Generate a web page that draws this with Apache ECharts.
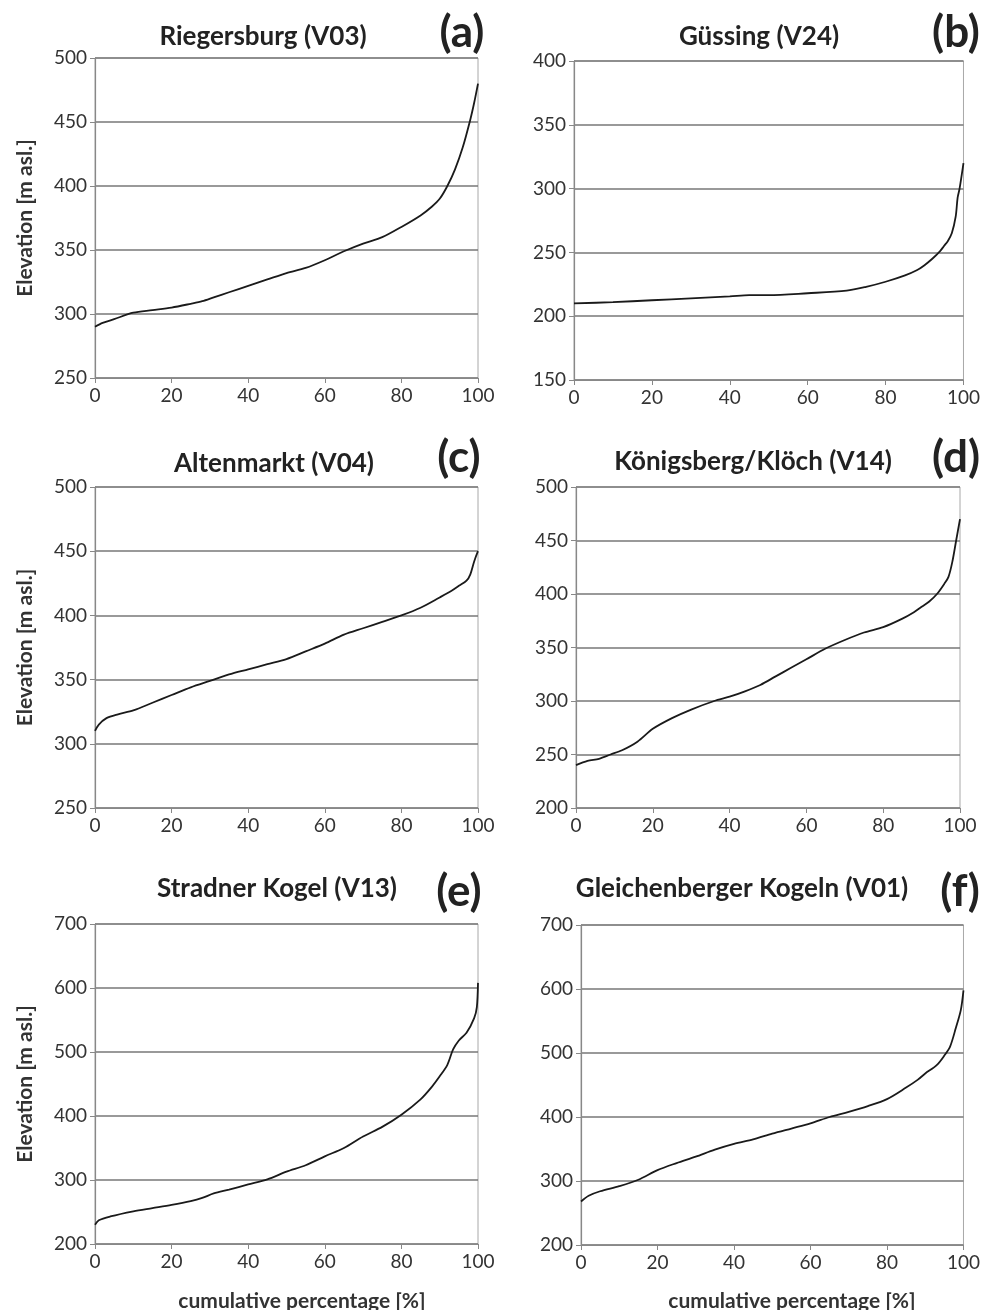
<!DOCTYPE html>
<html>
<head>
<meta charset="utf-8">
<script src="https://cdn.jsdelivr.net/npm/echarts@6/dist/echarts.min.js"></script>
<style>
  html, body { margin: 0; padding: 0; background: #fff; }
  #main { width: 983px; height: 1310px; }
</style>
</head>
<body>
<div id="main"></div>
<script>
// cumulative percentage (x) and elevation (y)
const xA = [0, 2, 5, 10, 15, 20, 25, 28, 31, 35, 40, 45, 50, 55, 60, 65, 70, 75, 80, 85, 88, 90, 92, 94, 96, 98, 99, 100]
const yA = [290, 293, 296, 301, 303, 305, 308, 310, 313, 317, 322, 327, 332, 336, 342, 349, 355, 360, 368, 377, 384, 390, 400, 413, 430, 452, 465, 480]

const xB = [0, 10, 20, 30, 40, 45, 50, 60, 70, 75, 80, 85, 88, 90, 92, 94, 95, 96, 97, 98, 98.5, 99, 100]
const yB = [210, 211, 212.5, 214, 215.5, 216.5, 216.5, 218, 220, 223, 227, 232, 236, 240, 245, 251, 255, 259, 265, 278, 293, 300, 320]

const xC = [0, 1, 3, 6, 10, 15, 20, 25, 30, 35, 40, 45, 50, 55, 60, 65, 70, 75, 80, 85, 90, 93, 95, 97, 98, 99, 100]
const yC = [310, 315, 320, 323, 326, 332, 338, 344, 349, 354, 358, 362, 366, 372, 378, 385, 390, 395, 400, 406, 414, 419, 423, 427, 432, 442, 450]

const xD = [0, 3, 6, 9, 12, 16, 20, 25, 30, 36, 40, 44, 48, 52, 56, 60, 65, 70, 75, 80, 85, 88, 90, 92, 94, 96, 97, 98, 99, 100]
const yD = [240, 244, 246, 250, 254, 262, 274, 284, 292, 300, 304, 309, 315, 323, 331, 339, 349, 357, 364, 369, 377, 383, 388, 393, 400, 410, 416, 430, 450, 470]

const xE = [0, 1, 4, 10, 15, 20, 25, 28, 31, 35, 40, 45, 50, 55, 60, 65, 70, 75, 80, 85, 88, 90, 92, 93.5, 95, 97, 99, 99.7, 100]
const yE = [230, 237, 243, 251, 256, 261, 267, 272, 279, 285, 293, 301, 313, 323, 337, 350, 368, 383, 402, 426, 446, 462, 480, 504, 518, 530, 553, 570, 608]

const xF = [0, 2, 5, 10, 15, 20, 25, 30, 35, 40, 45, 50, 55, 60, 65, 70, 75, 80, 85, 88, 90, 93, 95, 96.5, 98, 99.3, 100]
const yF = [268, 277, 284, 292, 302, 317, 328, 338, 349, 358, 365, 374, 382, 390, 400, 408, 417, 428, 446, 458, 468, 481, 496, 510, 539, 567, 598]

const panelTitles = ['Riegersburg (V03)', 'Güssing (V24)', 'Altenmarkt (V04)', 'Königsberg/Klöch (V14)', 'Stradner Kogel (V13)', 'Gleichenberger Kogeln (V01)']
const panelLetters = ['(a)', '(b)', '(c)', '(d)', '(e)', '(f)']
const yMin = [250, 150, 250, 200, 200, 200]
const yMax = [500, 400, 500, 500, 700, 700]
const yStep = [50, 50, 50, 50, 100, 100]
const yName = 'Elevation [m asl.]'
const xName = 'cumulative percentage [%]'

const xs = [xA, xB, xC, xD, xE, xF]
const ys = [yA, yB, yC, yD, yE, yF]

const FONT = 'Lato, "Open Sans", sans-serif'

// plot boxes in px: [left, top, width, height]
const boxes = [
  [95, 58, 383, 320],
  [574, 61, 391, 319],
  [95, 487, 383, 321],
  [576, 487, 384, 321],
  [95, 924, 383, 320],
  [581, 925, 383, 320]
]
// title centre x / top, letter centre x / top
const titlePos = [
  [258, 19, 457, 6],
  [754, 19, 951, 6],
  [269, 446, 454, 431],
  [748, 444, 951, 431],
  [272, 871, 454, 865],
  [737, 871, 955, 865]
]

const chart = echarts.init(document.getElementById('main'))

const grid = []
const xAxis = []
const yAxis = []
const series = []
const title = []

boxes.forEach((b, i) => {
  grid.push({
    left: b[0], top: b[1], width: b[2], height: b[3],
    show: true, borderColor: '#a8a8a8', borderWidth: 1, backgroundColor: '#fff'
  })
  xAxis.push({
    type: 'value', gridIndex: i, min: 0, max: 100, interval: 20,
    axisLine: { show: true, onZero: false, lineStyle: { color: '#888', width: 1.2 } },
    axisTick: { show: true, length: 5, lineStyle: { color: '#888' } },
    axisLabel: { color: '#333', fontSize: 19, fontFamily: FONT, margin: 8 },
    splitLine: { show: false }
  })
  yAxis.push({
    type: 'value', gridIndex: i, min: yMin[i], max: yMax[i], interval: yStep[i],
    name: i % 2 === 0 ? yName : '',
    nameLocation: 'middle', nameGap: 59,
    nameTextStyle: { fontSize: 21, fontWeight: 'bold', color: '#333', fontFamily: FONT },
    axisLine: { show: true, lineStyle: { color: '#888', width: 1.2 } },
    axisTick: { show: true, length: 5, lineStyle: { color: '#888' } },
    axisLabel: { color: '#333', fontSize: 19, fontFamily: FONT, margin: 8 },
    splitLine: { show: true, lineStyle: { color: '#777', width: 1.5 } }
  })
  series.push({
    type: 'line', xAxisIndex: i, yAxisIndex: i,
    data: xs[i].map((x, k) => [x, ys[i][k]]),
    smooth: 0.3, showSymbol: false, animation: false,
    lineStyle: { color: '#1a1a1a', width: 1.8 }
  })
  const t = titlePos[i]
  title.push({
    text: panelTitles[i], left: t[0], top: t[1], textAlign: 'center',
    textStyle: { fontSize: 26, fontWeight: 'bold', color: '#222', fontFamily: FONT }
  })
  title.push({
    text: panelLetters[i], left: t[2], top: t[3], textAlign: 'center',
    textStyle: { fontSize: 44, fontWeight: 'bold', color: '#222', fontFamily: FONT }
  })
})

// x axis names under bottom row
title.push({
  text: xName, left: 297, top: 1286, textAlign: 'center',
  textStyle: { fontSize: 21, fontWeight: 'bold', color: '#333', fontFamily: FONT }
})
title.push({
  text: xName, left: 787, top: 1286, textAlign: 'center',
  textStyle: { fontSize: 21, fontWeight: 'bold', color: '#333', fontFamily: FONT }
})

chart.setOption({
  backgroundColor: '#fff',
  animation: false,
  title,
  grid,
  xAxis,
  yAxis,
  series
})
</script>
</body>
</html>
